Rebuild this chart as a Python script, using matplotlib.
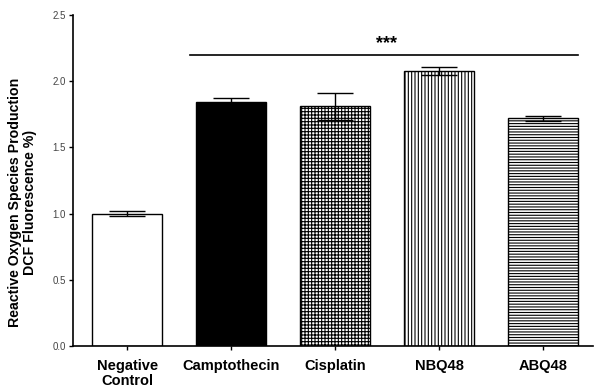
import numpy as np
import matplotlib
matplotlib.use("Agg")
import matplotlib.pyplot as plt

# data
groups = ["Negative\nControl", "Camptothecin", "Cisplatin", "NBQ48", "ABQ48"]
means  = [1.00, 1.84, 1.81, 2.08, 1.72]
sems   = [0.02, 0.03, 0.10, 0.03, 0.02]
hatches = ["", "", "+++++", "|||||", "------"]
faces   = ["white", "black", "white", "white", "white"]

sig_y     = 2.20
sig_span  = (0.61, 4.34)
sig_label = "***"

plt.rcParams["font.family"] = ["Liberation Sans", "DejaVu Sans"]
plt.rcParams["hatch.linewidth"] = 0.8


def main():
    fig = plt.figure(figsize=(6.0, 3.91), dpi=100)
    ax = fig.add_axes([0.1217, 0.115, 0.8663, 0.8466])

    x = np.arange(len(groups))
    for i in range(len(groups)):
        ax.bar(x[i], means[i], width=0.67, color=faces[i], edgecolor="black",
               linewidth=1.0, hatch=hatches[i], zorder=2)
    ax.errorbar(x, means, yerr=sems, fmt="none", ecolor="black",
                elinewidth=1.0, capsize=13, capthick=1.0, zorder=3)

    ax.plot(sig_span, [sig_y, sig_y], color="black", lw=1.2)
    ax.text(2.5, sig_y + 0.02, sig_label, ha="center",
            va="bottom", fontsize=13, fontweight="bold")

    ax.set_xlim(-0.52, 4.48)
    ax.set_ylim(0, 2.5)
    ax.set_yticks([0.0, 0.5, 1.0, 1.5, 2.0, 2.5])
    ax.set_yticklabels([f"{v:.1f}" for v in ax.get_yticks()], fontsize=7,
                       color="#444444")
    ax.set_xticks(x)
    ax.set_xticklabels(groups, fontsize=10.5, fontweight="bold",
                       linespacing=1.1)
    ax.tick_params(axis="y", direction="out", length=3, width=1, pad=2)
    ax.tick_params(axis="x", direction="out", length=3, width=1, pad=6)

    for s in ["top", "right"]:
        ax.spines[s].set_visible(False)
    for s in ["left", "bottom"]:
        ax.spines[s].set_linewidth(1.2)

    ax.set_ylabel("Reactive Oxygen Species Production\nDCF Fluorescence %)",
                  fontsize=10.2, fontweight="bold", linespacing=1.15)
    ax.yaxis.set_label_coords(-0.069, 0.435)

    fig.savefig("out.png", dpi=100)


if __name__ == "__main__":
    main()
